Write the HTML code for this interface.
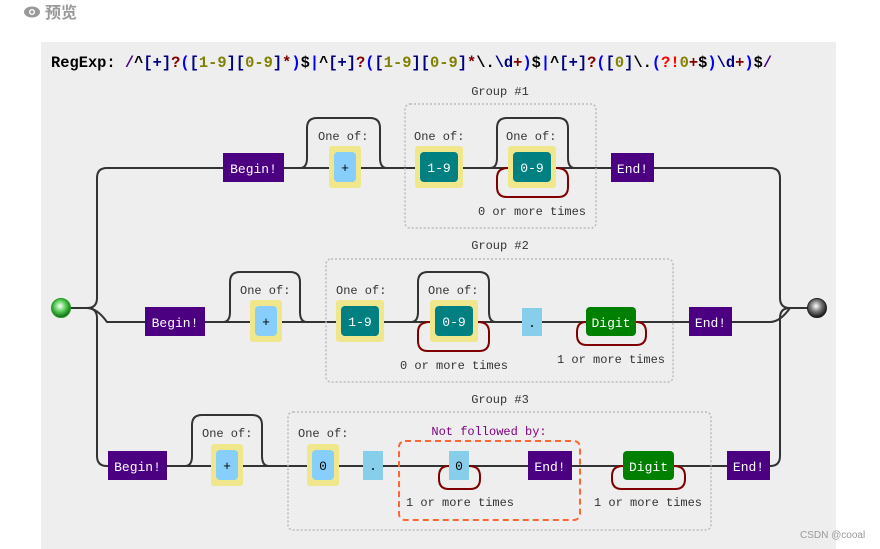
<!DOCTYPE html>
<html><head><meta charset="utf-8"><style>
html,body{margin:0;padding:0;background:#fff;width:880px;height:549px;overflow:hidden}
svg{display:block}
text{font-family:"Liberation Mono","Noto Sans CJK SC",monospace;font-size:12px}
.w{fill:#fff;font-size:13px;text-anchor:middle}
.k{fill:#000;text-anchor:middle;font-size:13px}
.g{fill:#333;}
.c{fill:#333;text-anchor:middle}
.ln{fill:none;stroke:#333;stroke-width:2}
.rl{fill:none;stroke:#800000;stroke-width:2}
.grp{fill:none;stroke:#bbb;stroke-width:1.5;stroke-dasharray:2,2}
</style></head><body>
<svg width="880" height="549" viewBox="0 0 880 549" xmlns="http://www.w3.org/2000/svg">
<defs>
<radialGradient id="gs" cx="45%" cy="40%" r="60%"><stop offset="0" stop-color="#fff"/><stop offset="0.5" stop-color="#5c5"/><stop offset="1" stop-color="#161"/></radialGradient>
<radialGradient id="ge" cx="45%" cy="40%" r="60%"><stop offset="0" stop-color="#fff"/><stop offset="0.5" stop-color="#777"/><stop offset="1" stop-color="#111"/></radialGradient>
</defs>
<g fill="#999"><ellipse cx="32" cy="12" rx="8" ry="5.5"/></g><circle cx="32" cy="12" r="3" fill="#fff"/><circle cx="32" cy="12" r="1.6" fill="#999"/>
<text x="45" y="18" style="font-family:'Liberation Sans','Noto Sans CJK SC',sans-serif;font-size:16px;font-weight:bold;fill:#999">预览</text>
<rect x="41" y="42" width="795" height="507" fill="#eee"/>
<text x="51" y="67" style="font-size:15.4px;font-weight:bold" fill="#000" xml:space="preserve">RegExp: <tspan fill="#4b0082">/</tspan><tspan fill="#000">^</tspan><tspan fill="#000080">[</tspan><tspan fill="#000080">+</tspan><tspan fill="#000080">]</tspan><tspan fill="#800000">?</tspan><tspan fill="#0000ff">(</tspan><tspan fill="#000080">[</tspan><tspan fill="#808000">1-9</tspan><tspan fill="#000080">][</tspan><tspan fill="#808000">0-9</tspan><tspan fill="#000080">]</tspan><tspan fill="#800000">*</tspan><tspan fill="#0000ff">)</tspan><tspan fill="#000">$</tspan><tspan fill="#0000ff">|</tspan><tspan fill="#000">^</tspan><tspan fill="#000080">[+]</tspan><tspan fill="#800000">?</tspan><tspan fill="#0000ff">(</tspan><tspan fill="#000080">[</tspan><tspan fill="#808000">1-9</tspan><tspan fill="#000080">][</tspan><tspan fill="#808000">0-9</tspan><tspan fill="#000080">]</tspan><tspan fill="#800000">*</tspan><tspan fill="#000">\.</tspan><tspan fill="#000080">\d</tspan><tspan fill="#800000">+</tspan><tspan fill="#0000ff">)</tspan><tspan fill="#000">$</tspan><tspan fill="#0000ff">|</tspan><tspan fill="#000">^</tspan><tspan fill="#000080">[+]</tspan><tspan fill="#800000">?</tspan><tspan fill="#0000ff">(</tspan><tspan fill="#000080">[</tspan><tspan fill="#808000">0</tspan><tspan fill="#000080">]</tspan><tspan fill="#000">\.</tspan><tspan fill="#0000ff">(</tspan><tspan fill="#ff0000">?!</tspan><tspan fill="#808000">0</tspan><tspan fill="#800000">+</tspan><tspan fill="#000">$</tspan><tspan fill="#0000ff">)</tspan><tspan fill="#000080">\d</tspan><tspan fill="#800000">+</tspan><tspan fill="#0000ff">)</tspan><tspan fill="#000">$</tspan><tspan fill="#4b0082">/</tspan></text>

<path class="ln" d="M61 308 H87 Q97 308 97 298 V178 Q97 168 107 168 H770 Q780 168 780 178 V298 Q780 308 790 308 H817"/>
<path class="ln" d="M87 308 Q97 308 97 318 V456 Q97 466 107 466 H770 Q780 466 780 456 V318 Q780 308 790 308"/>
<path class="ln" d="M87 308 Q97 308 107 322 H770 Q780 322 790 308"/>
<circle cx="61" cy="308" r="9.5" fill="url(#gs)" stroke="#292" stroke-width="1"/>
<circle cx="817" cy="308" r="9.5" fill="url(#ge)" stroke="#222" stroke-width="1"/>

<rect x="223" y="153" width="61" height="29" fill="#4b0082"/><text class="w" x="253.5" y="173">Begin!</text>
<path class="ln" d="M300 168 Q307 168 307 158 V128 Q307 118 317 118 H370 Q380 118 380 128 V158 Q380 168 387 168"/>
<text class="g" x="318" y="140">One of:</text>
<rect x="329" y="146" width="32" height="42" rx="3" fill="#f0e68c"/><rect x="334" y="152" width="22" height="30" rx="4" fill="#87cefa"/><text class="k" x="345" y="172">+</text>
<rect class="grp" x="405" y="104" width="191" height="124" rx="5"/><text class="c" x="500" y="95">Group #1</text>
<text class="g" x="414" y="140">One of:</text>
<rect x="415" y="146" width="48" height="42" rx="3" fill="#f0e68c"/><rect x="420" y="152" width="38" height="30" rx="4" fill="#008080"/><text class="w" x="439" y="172">1-9</text>
<path class="ln" d="M490 168 Q497 168 497 158 V128 Q497 118 507 118 H558 Q568 118 568 128 V158 Q568 168 575 168"/>
<path class="rl" d="M508 168 Q497 168 497 178 V187 Q497 197 507 197 H558 Q568 197 568 187 V178 Q568 168 556 168"/>
<text class="g" x="506" y="140">One of:</text>
<rect x="508" y="146" width="48" height="42" rx="3" fill="#f0e68c"/><rect x="513" y="152" width="38" height="30" rx="4" fill="#008080"/><text class="w" x="532" y="172">0-9</text>
<text class="c" x="532" y="215">0 or more times</text>
<rect x="611" y="153" width="43" height="29" fill="#4b0082"/><text class="w" x="632.5" y="173">End!</text>

<rect x="145" y="307" width="60" height="29" fill="#4b0082"/><text class="w" x="175" y="327">Begin!</text>
<path class="ln" d="M223 322 Q230 322 230 312 V282 Q230 272 240 272 H290 Q300 272 300 282 V312 Q300 322 307 322"/>
<text class="g" x="240" y="294">One of:</text>
<rect x="250" y="300" width="32" height="42" rx="3" fill="#f0e68c"/><rect x="255" y="306" width="22" height="30" rx="4" fill="#87cefa"/><text class="k" x="266" y="326">+</text>
<rect class="grp" x="326" y="259" width="347" height="123" rx="5"/><text class="c" x="500" y="249">Group #2</text>
<text class="g" x="336" y="294">One of:</text>
<rect x="336" y="300" width="48" height="42" rx="3" fill="#f0e68c"/><rect x="341" y="306" width="38" height="30" rx="4" fill="#008080"/><text class="w" x="360" y="326">1-9</text>
<path class="ln" d="M411 322 Q418 322 418 312 V282 Q418 272 428 272 H479 Q489 272 489 282 V312 Q489 322 496 322"/>
<path class="rl" d="M430 322 Q418 322 418 332 V341 Q418 351 428 351 H479 Q489 351 489 341 V332 Q489 322 478 322"/>
<text class="g" x="428" y="294">One of:</text>
<rect x="430" y="300" width="48" height="42" rx="3" fill="#f0e68c"/><rect x="435" y="306" width="38" height="30" rx="4" fill="#008080"/><text class="w" x="454" y="326">0-9</text>
<text class="c" x="454" y="369">0 or more times</text>
<rect x="522" y="308" width="20" height="28" fill="#87ceeb"/><text class="k" x="532" y="327">.</text>
<path class="rl" d="M586 322 Q577 322 577 332 V335 Q577 345 587 345 H636 Q646 345 646 335 V332 Q646 322 636 322"/>
<rect x="586" y="307" width="50" height="29" rx="4" fill="#008000"/><text class="w" x="611" y="327">Digit</text>
<text class="c" x="611" y="363">1 or more times</text>
<rect x="689" y="307" width="43" height="29" fill="#4b0082"/><text class="w" x="710.5" y="327">End!</text>

<rect x="108" y="451" width="59" height="29" fill="#4b0082"/><text class="w" x="137.5" y="471">Begin!</text>
<path class="ln" d="M185 466 Q192 466 192 456 V425 Q192 415 202 415 H252 Q262 415 262 425 V456 Q262 466 269 466"/>
<text class="g" x="202" y="437">One of:</text>
<rect x="211" y="444" width="32" height="42" rx="3" fill="#f0e68c"/><rect x="216" y="450" width="22" height="30" rx="4" fill="#87cefa"/><text class="k" x="227" y="470">+</text>
<rect class="grp" x="288" y="412" width="423" height="118" rx="5"/><text class="c" x="500" y="403">Group #3</text>
<text class="g" x="298" y="437">One of:</text>
<rect x="307" y="444" width="32" height="42" rx="3" fill="#f0e68c"/><rect x="312" y="450" width="22" height="30" rx="4" fill="#87cefa"/><text class="k" x="323" y="470">0</text>
<rect x="363" y="451" width="20" height="29" fill="#87ceeb"/><text class="k" x="373" y="470">.</text>
<rect x="399" y="441" width="181" height="79" rx="6" fill="none" stroke="#ff6633" stroke-width="2" stroke-dasharray="6,4"/>
<text x="489" y="435" style="text-anchor:middle" fill="#800080">Not followed by:</text>
<path class="rl" d="M449 466 Q439 466 439 476 V479 Q439 489 449 489 H470 Q480 489 480 479 V476 Q480 466 469 466"/>
<rect x="449" y="451" width="20" height="29" fill="#87ceeb"/><text class="k" x="459" y="470">0</text>
<text class="c" x="460" y="506">1 or more times</text>
<rect x="528" y="451" width="44" height="29" fill="#4b0082"/><text class="w" x="550" y="471">End!</text>
<path class="rl" d="M623 466 Q612 466 612 476 V479 Q612 489 622 489 H675 Q685 489 685 479 V476 Q685 466 674 466"/>
<rect x="623" y="451" width="51" height="29" rx="4" fill="#008000"/><text class="w" x="648.5" y="471">Digit</text>
<text class="c" x="648" y="506">1 or more times</text>
<rect x="727" y="451" width="43" height="29" fill="#4b0082"/><text class="w" x="748.5" y="471">End!</text>

<text x="800" y="538" style="font-family:'Liberation Sans',sans-serif;font-size:10px" fill="#999">CSDN @cooal</text>
</svg>
</body></html>
